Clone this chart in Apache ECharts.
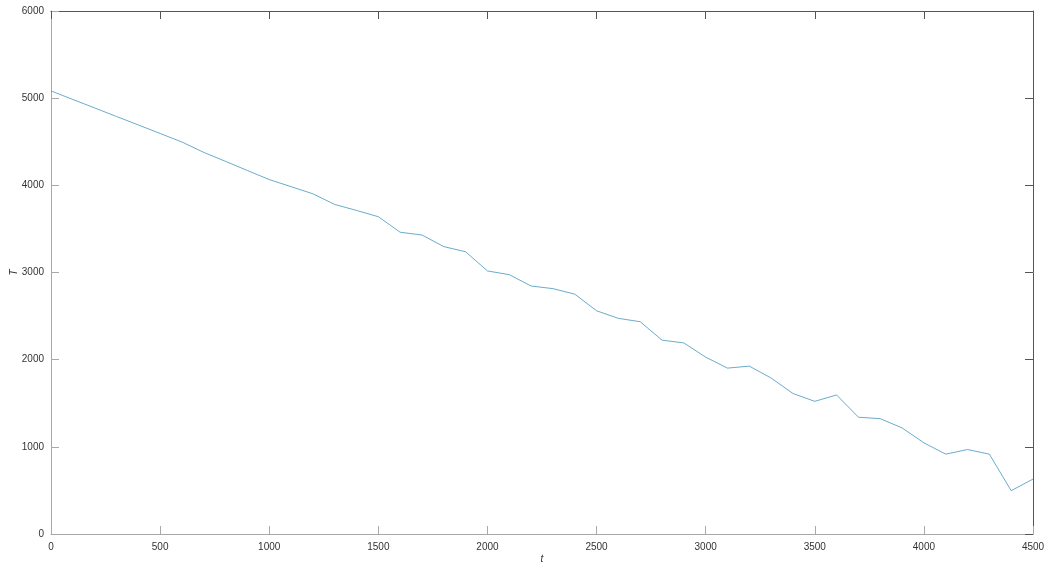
<!DOCTYPE html>
<html>
<head>
<meta charset="utf-8">
<script src="https://cdn.jsdelivr.net/npm/echarts@6/dist/echarts.min.js"></script>
<style>
    html, body { margin: 0; padding: 0; background: #fff; }
    #chart { width: 1052px; height: 574px; }
</style>
</head>
<body>
<div id="chart"></div>
<script>
// 数据：t 每 100 一个点
var tValues = [0, 100, 200, 300, 400, 500, 600, 700, 800, 900,
    1000, 1100, 1200, 1300, 1400, 1500, 1600, 1700, 1800, 1900,
    2000, 2100, 2200, 2300, 2400, 2500, 2600, 2700, 2800, 2900,
    3000, 3100, 3200, 3300, 3400, 3500, 3600, 3700, 3800, 3900,
    4000, 4100, 4200, 4300, 4400, 4500];
var TValues = [5083, 4985, 4888, 4790, 4693, 4595, 4497, 4378, 4275, 4170,
    4066, 3985, 3903, 3781, 3712, 3640, 3462, 3430, 3297, 3238,
    3018, 2975, 2845, 2815, 2752, 2561, 2474, 2435, 2224, 2192,
    2029, 1903, 1926, 1789, 1612, 1522, 1595, 1340, 1323, 1217,
    1046, 916, 969, 916, 497, 630];
var xTicks = [0, 500, 1000, 1500, 2000, 2500, 3000, 3500, 4000, 4500];
var yTicks = [0, 1000, 2000, 3000, 4000, 5000, 6000];

var lineData = [];
for (var i = 0; i < tValues.length; i++) {
    lineData.push([tValues[i], TValues[i]]);
}

var FONT = "'Liberation Sans', Arial, sans-serif";
var lightAxis = '#a8a8a8';
var darkAxis = '#555';

function boxAxis(pos, isX, showLabel) {
    var ticks = isX ? xTicks : yTicks;
    var col = (pos === 'top' || pos === 'right') ? darkAxis : lightAxis;
    return {
        type: 'value',
        position: pos,
        min: ticks[0],
        max: ticks[ticks.length - 1],
        interval: ticks[1] - ticks[0],
        splitLine: { show: false },
        axisLine: { show: true, onZero: false, lineStyle: { color: col, width: 1 } },
        axisTick: { show: true, inside: true, length: 8, lineStyle: { color: col, width: 1 } },
        axisLabel: {
            show: showLabel,
            color: '#333',
            fontSize: 10,
            fontFamily: FONT,
            margin: isX ? 8 : 7,
            formatter: function (v) { return String(v); }
        }
    };
}

var xMain = boxAxis('bottom', true, true);
xMain.name = 't';
xMain.nameLocation = 'middle';
xMain.nameGap = 20;
xMain.nameMoveOverlap = false;
xMain.nameTextStyle = { fontStyle: 'italic', fontSize: 10, color: '#333', fontFamily: FONT };

var yMain = boxAxis('left', false, true);
yMain.name = 'T';
yMain.nameLocation = 'middle';
yMain.nameGap = 32;
yMain.nameRotate = 90;
yMain.nameMoveOverlap = false;
yMain.nameTextStyle = { fontStyle: 'italic', fontSize: 10, color: '#333', fontFamily: FONT };

var myChart = echarts.init(document.getElementById('chart'));
myChart.setOption({
    animation: false,
    backgroundColor: '#fff',
    grid: { left: 51, right: 19, top: 11, bottom: 40, containLabel: false, outerBoundsMode: 'none' },
    xAxis: [xMain, boxAxis('top', true, false)],
    yAxis: [yMain, boxAxis('right', false, false)],
    series: [{
        type: 'line',
        xAxisIndex: 0,
        yAxisIndex: 0,
        data: lineData,
        showSymbol: false,
        symbol: 'none',
        lineStyle: { color: '#4497be', width: 0.8 }
    }]
});
</script>
</body>
</html>
